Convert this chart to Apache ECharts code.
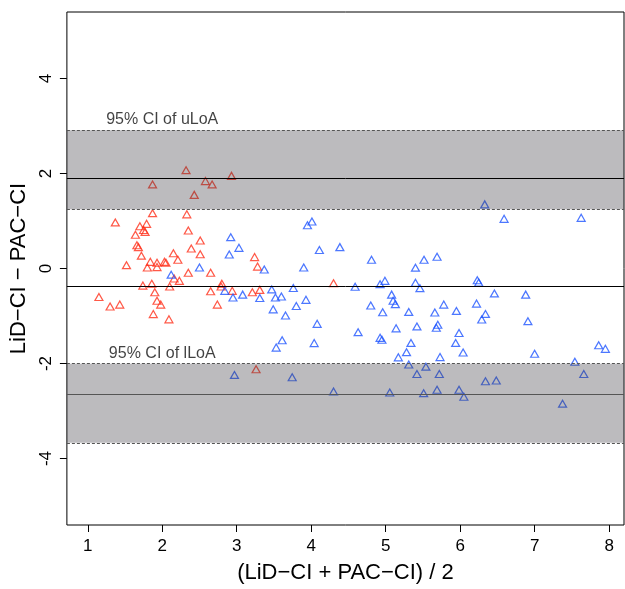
<!DOCTYPE html>
<html>
<head>
<meta charset="utf-8">
<script src="https://cdn.jsdelivr.net/npm/echarts@6/dist/echarts.min.js"></script>
<style>
  html, body { margin: 0; padding: 0; background: #fff; }
  #chart { width: 625px; height: 589px; }
</style>
</head>
<body>
<div id="chart"></div>
<script>
// group 1 (red) : [mean, difference]
const groupRed = [
  [2.32, 2.07], [2.93, 1.95], [1.87, 1.77], [2.58, 1.84], [2.67, 1.77], [2.43, 1.55],
  [1.87, 1.165], [2.33, 1.14], [1.37, 0.97], [1.70, 0.89], [1.79, 0.94], [1.75, 0.81],
  [1.77, 0.77], [1.64, 0.71], [2.35, 0.80], [2.51, 0.59], [1.66, 0.49], [1.68, 0.45],
  [2.39, 0.42], [2.51, 0.30], [1.72, 0.27], [2.15, 0.32], [2.21, 0.185], [2.03, 0.14],
  [2.05, 0.12], [1.93, 0.12], [1.84, 0.14], [1.80, 0.02], [1.93, 0.03], [1.52, 0.07],
  [3.24, 0.24], [3.28, 0.04], [2.35, -0.09], [2.65, -0.09], [2.16, -0.21], [2.23, -0.26],
  [1.74, -0.36], [1.86, -0.32], [2.10, -0.38], [1.90, -0.50], [2.80, -0.32], [2.79, -0.38],
  [2.94, -0.47], [2.65, -0.48], [3.21, -0.50], [3.31, -0.45], [1.15, -0.60], [1.30, -0.80],
  [1.43, -0.76], [1.93, -0.68], [1.98, -0.76], [1.88, -0.96], [2.09, -1.07], [2.74, -0.76],
  [3.26, -2.12], [4.30, -0.31]
];

// group 2 (blue)
const groupBlue = [
  [2.92, 0.66], [3.03, 0.435], [2.90, 0.295], [3.37, -0.02], [2.50, 0.02], [2.12, -0.13],
  [2.84, -0.47], [2.95, -0.61], [3.08, -0.55], [3.31, -0.62], [4.01, 0.99], [3.95, 0.91],
  [4.11, 0.39], [4.385, 0.45], [4.81, 0.185], [3.90, 0.02], [4.59, -0.385], [4.925, -0.33],
  [4.99, -0.26], [3.47, -0.44], [3.52, -0.61], [3.60, -0.59], [3.76, -0.41], [3.93, -0.66],
  [3.80, -0.79], [3.49, -0.86], [3.655, -0.99], [4.80, -0.78], [4.96, -0.92], [5.08, -0.55],
  [5.10, -0.68], [5.13, -0.75], [4.08, -1.165], [4.63, -1.34], [5.14, -1.26], [4.925, -1.46],
  [4.95, -1.50], [3.61, -1.51], [3.53, -1.665], [4.04, -1.57], [5.17, -1.87], [2.97, -2.24],
  [3.745, -2.29], [4.30, -2.59], [5.055, -2.61], [6.33, 1.35], [6.59, 1.046], [7.625, 1.067],
  [5.69, 0.247], [5.515, 0.185], [5.40, 0.018], [5.40, -0.30], [5.46, -0.414], [6.23, -0.247],
  [6.25, -0.295], [6.46, -0.524], [6.88, -0.55], [5.31, -0.914], [5.66, -0.927], [5.78, -0.76],
  [5.95, -0.893], [6.22, -0.739], [6.34, -0.956], [6.29, -1.073], [6.91, -1.108], [5.42, -1.219],
  [5.70, -1.185], [5.68, -1.248], [5.985, -1.358], [5.34, -1.567], [5.28, -1.761], [5.94, -1.567],
  [6.04, -1.769], [5.73, -1.865], [7.00, -1.796], [7.86, -1.615], [7.95, -1.692], [7.54, -1.963],
  [5.31, -2.02], [5.54, -2.067], [5.42, -2.22], [5.72, -2.22], [6.34, -2.374], [6.485, -2.359],
  [7.66, -2.22], [5.51, -2.624], [5.69, -2.553], [5.985, -2.553], [6.05, -2.699], [7.375, -2.845]
];

// bias and limits of agreement with their 95% CI  [lower CI, estimate, upper CI]
const meanDiff = -0.378;
const upperLoA = [1.248, 1.894, 2.91];
const lowerLoA = [-3.667, -2.651, -2.005];
const ciLabels = ['95% CI of uLoA', '95% CI of lLoA'];

const xTicks = [1, 2, 3, 4, 5, 6, 7, 8];
const yTicks = [-4, -2, 0, 2, 4];

const font = 'Liberation Sans, Arial, Helvetica, sans-serif';
const dashed = { color: '#555', width: 1.2, type: [3, 2] };

const chart = echarts.init(document.getElementById('chart'));

const pointSeries = (name, data, color) => ({
  name: name,
  type: 'scatter',
  data: data,
  z: 2,
  symbol: 'triangle',
  symbolSize: [8, 7],
  itemStyle: { color: 'rgba(0,0,0,0)', borderColor: color, borderWidth: 1.2 },
  silent: true
});

chart.setOption({
  animation: false,
  backgroundColor: '#fff',
  grid: {
    left: 66, right: 1, top: 12, bottom: 59,
    show: true, borderColor: '#000', borderWidth: 1, backgroundColor: 'transparent'
  },
  xAxis: {
    type: 'value',
    min: 0.72, max: 8.2,
    name: '(LiD\u2212CI + PAC\u2212CI) / 2',
    nameLocation: 'middle',
    nameGap: 37,
    nameTextStyle: { fontFamily: font, fontSize: 22, color: '#000' },
    axisLine: { show: false, onZero: false },
    splitLine: { show: false },
    axisTick: { show: true, inside: false, length: 7, customValues: xTicks, lineStyle: { color: '#000' } },
    axisLabel: { customValues: xTicks, margin: 13, fontFamily: font, fontSize: 17, color: '#000' }
  },
  yAxis: {
    type: 'value',
    min: -5.4, max: 5.4,
    name: 'LiD\u2212CI \u2212 PAC\u2212CI',
    nameLocation: 'middle',
    nameGap: 33,
    nameRotate: 90,
    nameTextStyle: { fontFamily: font, fontSize: 22, color: '#000' },
    axisLine: { show: false, onZero: false },
    splitLine: { show: false },
    axisTick: { show: true, inside: false, length: 7, customValues: yTicks, lineStyle: { color: '#000' } },
    axisLabel: { customValues: yTicks, rotate: 90, margin: 12, fontFamily: font, fontSize: 17, color: '#000',
      formatter: v => String(v) }
  },
  series: [
    pointSeries('red', groupRed, '#ff2f1a'),
    pointSeries('blue', groupBlue, '#1f55ff'),
    {
      name: 'bands',
      type: 'scatter',
      data: [],
      z: 3,
      silent: true,
      markArea: {
        z: 3,
        silent: true,
        itemStyle: { color: 'rgba(60,55,65,0.34)' },
        data: [
          [{ yAxis: upperLoA[0] }, { yAxis: upperLoA[2] }],
          [{ yAxis: lowerLoA[0] }, { yAxis: lowerLoA[2] }]
        ]
      },
      markLine: {
        z: 4,
        silent: true,
        symbol: 'none',
        label: { show: false },
        emphasis: { disabled: true },
        data: [
          { yAxis: meanDiff, lineStyle: { color: '#000', width: 1, type: 'solid' } },
          { yAxis: upperLoA[1], lineStyle: { color: '#000', width: 1, type: 'solid' } },
          { yAxis: lowerLoA[1], lineStyle: { color: '#555', width: 1.2, type: 'solid' } },
          { yAxis: upperLoA[0], lineStyle: dashed },
          { yAxis: upperLoA[2], lineStyle: dashed },
          { yAxis: lowerLoA[0], lineStyle: dashed },
          { yAxis: lowerLoA[2], lineStyle: dashed }
        ]
      }
    },
    {
      name: 'labels',
      type: 'scatter',
      z: 5,
      silent: true,
      symbolSize: 1,
      itemStyle: { color: 'rgba(0,0,0,0)' },
      data: [
        { value: [2.0, upperLoA[2] + 0.23], name: ciLabels[0] },
        { value: [2.0, lowerLoA[2] + 0.21], name: ciLabels[1] }
      ],
      label: {
        show: true, position: 'inside', formatter: p => p.name,
        fontFamily: font, fontSize: 16, color: '#111'
      }
    }
  ]
});
</script>
</body>
</html>
